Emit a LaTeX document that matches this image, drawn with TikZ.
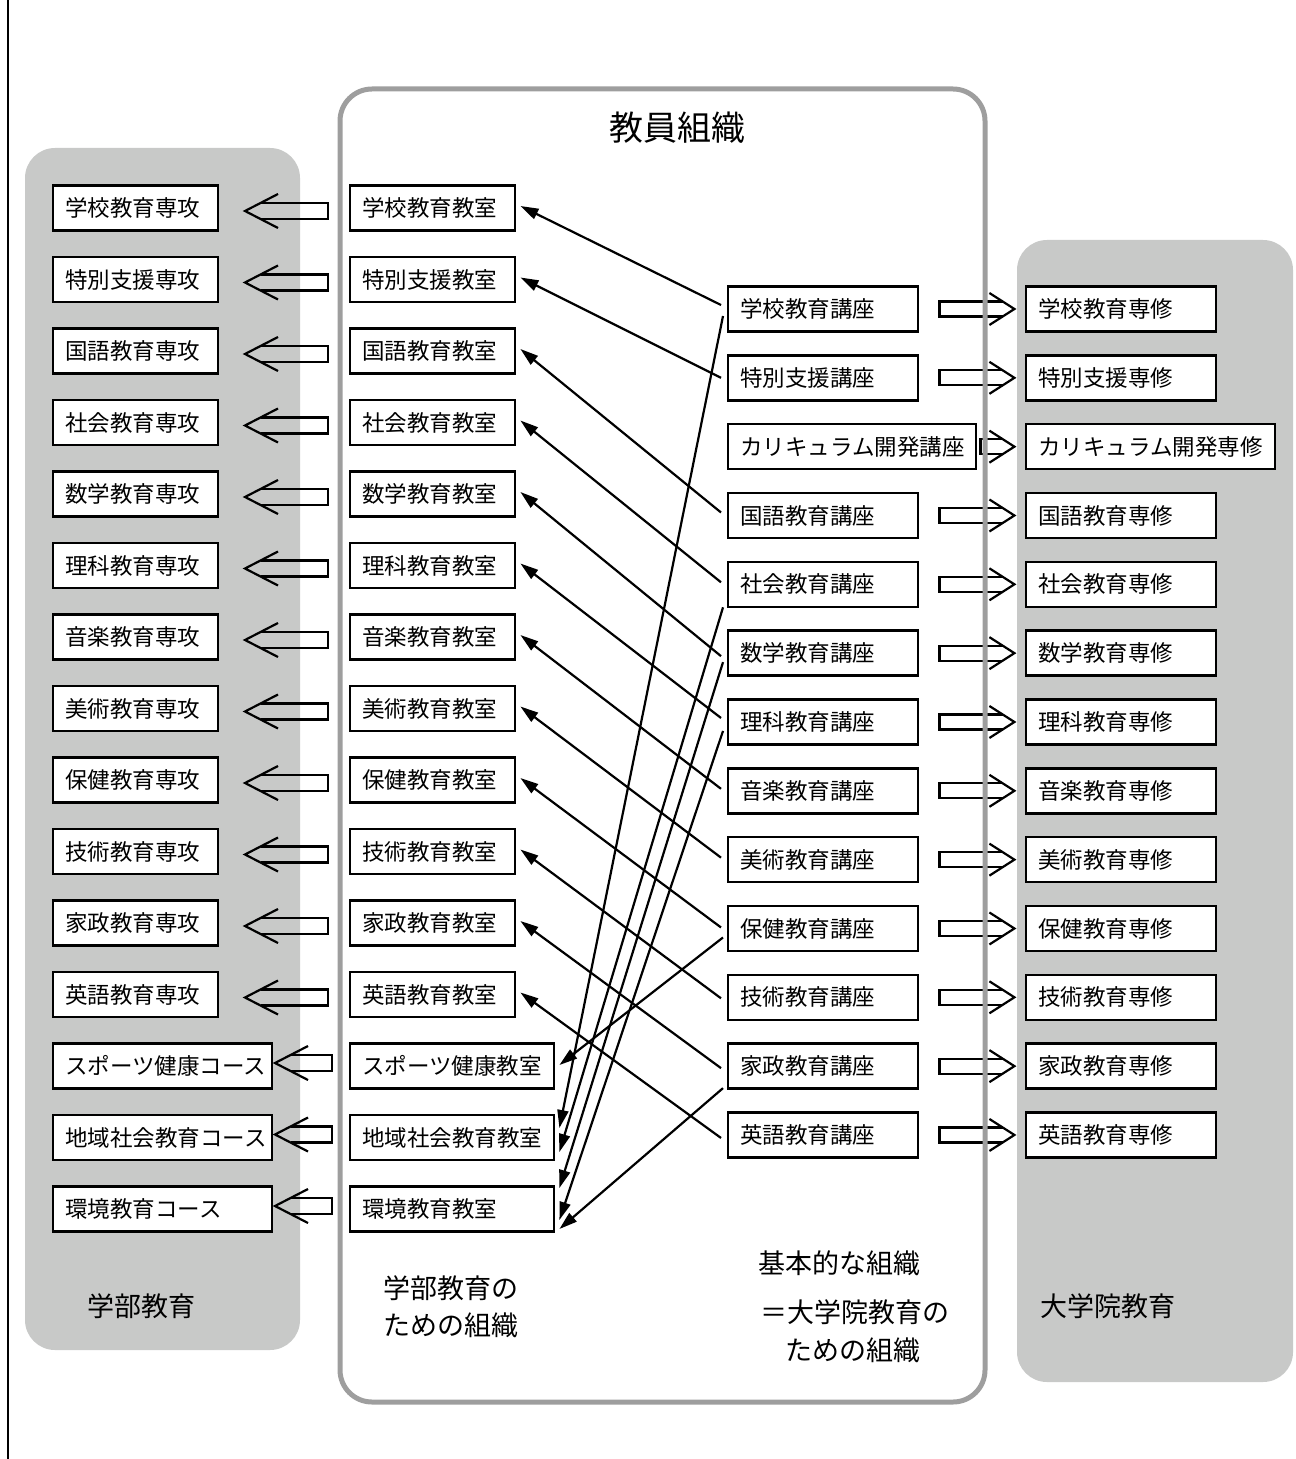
\documentclass[tikz,border=0pt]{standalone}
\usepackage{fontspec}
\newfontfamily\jp{Noto Sans CJK JP}
\usepackage{tikz}
\usetikzlibrary{calc,arrows.meta}
\definecolor{panelgray}{RGB}{200,201,200}
\definecolor{framegray}{RGB}{158,158,158}
\tikzset{
  box/.style={draw, fill=white, line width=1.2pt, anchor=west, minimum height=22.5pt,
    inner xsep=0pt, inner ysep=0pt, align=left, font=\jp\fontsize{11.25}{13}\selectfont,
    execute at begin node={\noindent\hspace*{6pt}}},
  conn/.style={line width=1.1pt, -{Triangle[length=9pt,width=5.5pt]}},
  hollow/.style={line width=1.1pt},
  bigtext/.style={anchor=west, inner sep=0pt, font=\jp\fontsize{13.5}{16}\selectfont},
  pics/hollowleft/.style={code={
      \draw[hollow] ({-#1+33},-17) -- ({-#1},0) -- ({-#1+33},17);
      \draw[hollow] ({-#1+15.5},-8) -- (0,-8) -- (0,8) -- ({-#1+15.5},8);
    }},
  pics/hollowright/.style={code={
      \draw[hollow] ({#1-25},-16) -- ({#1},0) -- ({#1-25},16);
      \draw[hollow] ({#1-11.7},-7.5) -- (0,-7.5) -- (0,7.5) -- ({#1-11.7},7.5);
    }},
}

\begin{document}
\begin{tikzpicture}[x=0.5pt,y=-0.5pt]
                      \useasboundingbox (0,0) rectangle (1295,1459);
                      \draw[line width=1pt] (8,0) -- (8,1459);
                      \fill[panelgray, rounded corners=15pt] (25,148) rectangle (300,1350);
                      \fill[panelgray, rounded corners=15pt] (1017,240) rectangle (1293,1382);

                      \foreach \txt [count=\i] in {学校教育専攻,特別支援専攻,国語教育専攻,社会教育専攻,数学教育専攻,理科教育専攻,音楽教育専攻,美術教育専攻,保健教育専攻,技術教育専攻,家政教育専攻,英語教育専攻}
                          \node[box, text width=82.5pt] (g\i) at (52,{208+71.5*(\i-1)}) {\txt};
                      \foreach \txt [count=\i from 13] in {スポーツ健康コース,地域社会教育コース,環境教育コース}
                          \node[box, text width=109.5pt] (g\i) at (52,{208+71.5*(\i-1)}) {\txt};

                      \foreach \txt [count=\i] in {学校教育教室,特別支援教室,国語教育教室,社会教育教室,数学教育教室,理科教育教室,音楽教育教室,美術教育教室,保健教育教室,技術教育教室,家政教育教室,英語教育教室}
                          \node[box, text width=82.5pt] (r\i) at (349,{208+71.5*(\i-1)}) {\txt};
                      \foreach \txt [count=\i from 13] in {スポーツ健康教室,地域社会教育教室,環境教育教室}
                          \node[box, text width=102pt] (r\i) at (349,{208+71.5*(\i-1)}) {\txt};

                      \foreach \txt [count=\i] in {学校教育講座,特別支援講座,カリキュラム開発講座,国語教育講座,社会教育講座,数学教育講座,理科教育講座,音楽教育講座,美術教育講座,保健教育講座,技術教育講座,家政教育講座,英語教育講座}
                          \node[box, text width=95pt] (k\i) at (727,{309+68.83*(\i-1)}) {\txt};
                      \node[box, text width=124pt] (k3) at (727,{309+68.83*2}) {カリキュラム開発講座};

                      \foreach \txt [count=\i] in {学校教育専修,特別支援専修,カリキュラム開発専修,国語教育専修,社会教育専修,数学教育専修,理科教育専修,音楽教育専修,美術教育専修,保健教育専修,技術教育専修,家政教育専修,英語教育専修}
                          \node[box, text width=95pt] (d\i) at (1025,{309+68.83*(\i-1)}) {\txt};
                      \node[box, text width=124.5pt] (d3) at (1025,{309+68.83*2}) {カリキュラム開発専修};

                      \foreach \a/\b/\sa in {1/1/-4, 2/2/0, 4/3/-3, 5/4/-2, 6/5/3, 7/6/-4, 8/7/-2, 9/8/-2, 10/9/-1, 11/10/1, 12/11/2, 13/12/3}
                          \draw[conn] ($(k\a.west)+(-6,\sa)$) -- ($(r\b.east)+(4,-2)$);
                      \foreach \a/\b/\sa/\sb in {1/14/7/-9.5, 5/14/23/14.5, 6/15/9/-21, 7/15/9/11, 10/13/9/-1, 12/15/22/20}
                          \draw[conn] ($(k\a.west)+(-4,\sa)$) -- ($(r\b.east)+(4,\sb)$);

                      \foreach \i in {1,...,12}
                          \pic at ($(r\i.west)+(-21,3)$) {hollowleft=83};
                      \foreach \i in {13,14,15}
                          \pic at ($(r\i.west)+(-17,-3)$) {hollowleft=57};
                      \foreach \i in {1,2,4,5,6,7,8,9,10,11,12,13}
                          \pic at ($(k\i.east)+(20,0)$) {hollowright=75};
                      \pic at ($(k3.east)+(3,0)$) {hollowright=34};

                      \draw[framegray, line width=2.5pt, rounded corners=16pt] (340,89) rectangle (985,1402);

                      \node[font=\jp\fontsize{17}{20}\selectfont, inner sep=0pt] (title) at (677,128) {教員組織};
                      \node[bigtext] (ugrad) at (87,1306) {学部教育};
                      \node[bigtext] (ugorg1) at (383,1288) {学部教育の};
                      \node[bigtext] (ugorg2) at (383,1325) {ための組織};
                      \node[bigtext] (base1) at (758,1263) {基本的な組織};
                      \node[bigtext] (base2) at (760,1312) {＝大学院教育の};
                      \node[bigtext] (base3) at (785,1350) {ための組織};
                      \node[bigtext] (grad) at (1040,1306) {大学院教育};
                  \end{tikzpicture}
\end{document}
